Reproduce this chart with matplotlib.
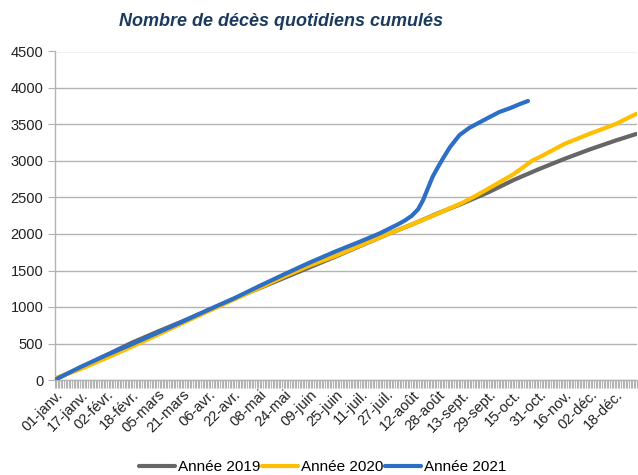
import matplotlib
matplotlib.use("Agg")
import matplotlib.pyplot as plt
from matplotlib import font_manager as fm
from matplotlib.transforms import ScaledTranslation

# ---- data ----
tick_labels = ["01-janv.", "17-janv.", "02-févr.", "18-févr.", "05-mars", "21-mars",
               "06-avr.", "22-avr.", "08-mai", "24-mai", "09-juin", "25-juin",
               "11-juil.", "27-juil.", "12-août", "28-août", "13-sept.", "29-sept.",
               "15-oct.", "31-oct.", "16-nov.", "02-déc.", "18-déc."]
n_days = 366

days_2019 = [0, 16, 32, 48, 64, 80, 96, 112, 128, 144, 160, 176, 192, 208, 224, 240,
             256, 272, 288, 304, 320, 336, 352, 365]
vals_2019 = [10, 170, 340, 510, 660, 805, 955, 1110, 1255, 1400, 1545, 1690, 1840, 1990,
             2130, 2280, 2420, 2570, 2740, 2890, 3030, 3160, 3280, 3370]

days_2020 = [0, 16, 32, 48, 64, 80, 96, 112, 128, 144, 160, 176, 192, 208, 224, 240,
             256, 265, 272, 288, 300, 304, 320, 336, 352, 365]
vals_2020 = [25, 150, 300, 455, 615, 780, 940, 1100, 1260, 1420, 1570, 1700, 1845, 1990,
             2130, 2275, 2430, 2534, 2620, 2820, 3010, 3050, 3235, 3375, 3505, 3645]

days_2021 = [0, 16, 32, 48, 64, 80, 96, 112, 128, 144, 160, 176, 192, 204, 216, 220,
             224, 228, 231, 234, 237, 240, 244, 248, 254, 260, 267, 273, 279, 286, 292, 297]
vals_2021 = [5, 180, 340, 490, 645, 800, 960, 1115, 1285, 1450, 1610, 1760, 1900, 2010,
             2140, 2190, 2250, 2340, 2460, 2620, 2780, 2900, 3050, 3190, 3356, 3452, 3534,
             3603, 3671, 3726, 3781, 3822]

series = [("Année 2019", days_2019, vals_2019, "#666666"),
          ("Année 2020", days_2020, vals_2020, "#ffbf00"),
          ("Année 2021", days_2021, vals_2021, "#2e6fc6")]

# ---- fonts ----
avail = {f.name for f in fm.fontManager.ttflist}
base_font = "Liberation Sans" if "Liberation Sans" in avail else "DejaVu Sans"
title_font = "Liberation Sans Narrow" if "Liberation Sans Narrow" in avail else base_font
plt.rcParams["font.family"] = [base_font, "DejaVu Sans"]

fig = plt.figure(figsize=(6.38, 4.75), dpi=100)
ax = fig.add_axes([54.5 / 638, 95 / 475, (637 - 54.5) / 638, (380 - 51.5) / 475])

for name, d, v, c in series:
    ax.plot(d, v, color=c, lw=3.0, label=name, solid_capstyle="round", zorder=3)

ax.set_xlim(-0.5, n_days - 0.5)
ax.set_ylim(0, 4500)
ax.set_yticks(range(0, 4501, 500))
ax.yaxis.grid(True, color="#b3b3b3", lw=1)
ax.set_axisbelow(True)

ax.set_xticks(range(0, n_days, 16))
ax.set_xticklabels(tick_labels, rotation=45, ha="right", va="center",
                   rotation_mode="anchor", fontsize=10.5, color="#222222")
ax.set_xticks([i - 0.5 for i in range(n_days + 1)], minor=True)
ax.tick_params(axis="x", which="major", length=0, pad=9)
ax.tick_params(axis="x", which="minor", length=6, width=0.8, color="#b3b3b3")
ax.tick_params(axis="y", length=5, color="#b3b3b3", labelsize=10.5,
               labelcolor="#222222", pad=3)
shift = ScaledTranslation(5 / 100, 0, fig.dpi_scale_trans)
for lab in ax.get_xticklabels():
    lab.set_transform(lab.get_transform() + shift)

for s in ["top", "right"]:
    ax.spines[s].set_visible(False)
for s in ["left", "bottom"]:
    ax.spines[s].set_color("#b3b3b3")
    ax.spines[s].set_linewidth(1)

fig.text(281 / 638, 1 - 21 / 475, "Nombre de décès quotidiens cumulés",
         ha="center", va="center", fontsize=13, fontweight="bold", fontstyle="italic",
         color="#1b3a5f", family=[title_font, "DejaVu Sans"])

fig.legend(loc="center", bbox_to_anchor=(323 / 638, 1 - 467 / 475), ncol=3,
           frameon=False, fontsize=11, handlelength=2.35, handletextpad=0.2,
           columnspacing=0.1, borderpad=0)

fig.savefig("out.png", dpi=100)
